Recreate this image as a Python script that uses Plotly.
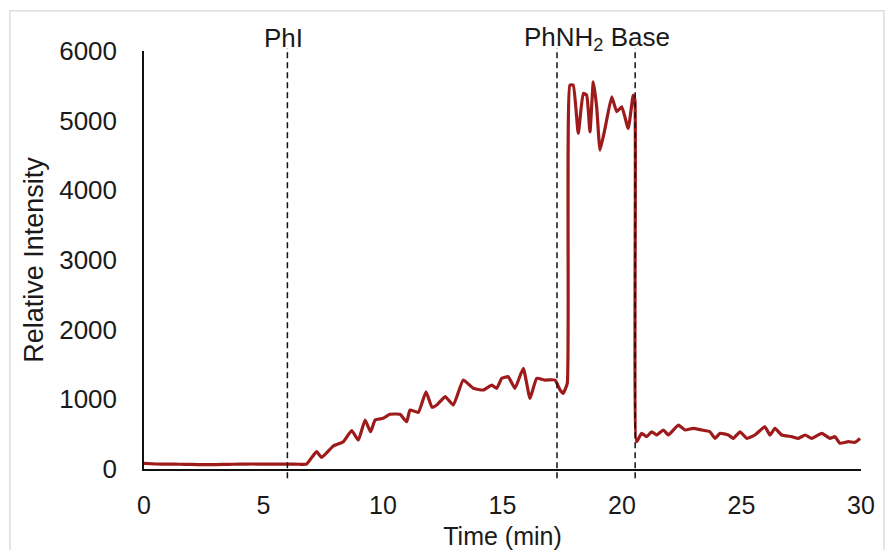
import plotly.graph_objects as go

# Time (min) and relative intensity
time_min = [0.0, 0.5, 1.0, 1.5, 2.0, 2.5, 3.0, 3.5, 4.0, 4.5, 5.0, 5.5, 6.0, 6.5, 6.8,
            7.22, 7.43, 7.92, 8.34, 8.69, 8.97, 9.25, 9.48, 9.67, 10.0, 10.29, 10.71,
            10.99, 11.13, 11.48, 11.8, 12.05, 12.25, 12.6, 12.94, 13.36, 13.78, 14.2,
            14.55, 14.76, 14.97, 15.24, 15.52, 15.87, 16.15, 16.43, 16.78, 17.2, 17.41,
            17.54, 17.71, 17.82, 17.96, 18.17, 18.38, 18.52, 18.66, 18.8, 18.94, 19.08,
            19.29, 19.57, 19.78, 19.99, 20.26, 20.47, 20.54, 20.61, 20.82, 21.03, 21.24,
            21.45, 21.73, 21.94, 22.36, 22.64, 22.98, 23.33, 23.68, 23.89, 24.1, 24.45,
            24.66, 24.94, 25.22, 25.56, 25.98, 26.19, 26.4, 26.68, 27.1, 27.38, 27.66,
            27.94, 28.36, 28.7, 28.91, 29.12, 29.47, 29.75, 29.96]
intensity = [80, 72, 70, 68, 66, 62, 64, 66, 70, 72, 70, 72, 70, 68, 70,
             248, 168, 330, 392, 550, 416, 703, 535, 703, 727, 785, 785,
             679, 847, 813, 1109, 885, 918, 1038, 918, 1277, 1158, 1134,
             1205, 1158, 1301, 1325, 1158, 1445, 1014, 1301, 1277, 1277, 1134,
             1086, 1230, 5510, 5510, 4817, 5391, 5367, 4840, 5558, 5199, 4578,
             4889, 5343, 5128, 5199, 4889, 5367, 5300, 392, 512, 464, 535,
             488, 560, 488, 631, 560, 584, 560, 535, 440, 512, 488,
             440, 535, 440, 488, 607, 488, 584, 488, 464, 440, 488,
             440, 512, 440, 464, 369, 392, 383, 440]

x_ticks = [0, 5, 10, 15, 20, 25, 30]
y_ticks = [0, 1000, 2000, 3000, 4000, 5000, 6000]

event_times = [6.0, 17.28, 20.55]
event_labels = ["PhI", "PhNH<sub>2</sub> Base"]
event_label_x = [5.82, 18.95]

FONT = "Liberation Sans, Arial, sans-serif"
TXT = "#1a1a1a"

fig = go.Figure()
fig.add_trace(go.Scatter(x=time_min, y=intensity, mode="lines",
                         line=dict(color="#9e1b1b", width=3.2, shape="spline", smoothing=0.4),
                         showlegend=False, hoverinfo="skip"))

for t in event_times:
    fig.add_shape(type="line", xref="x", yref="paper", x0=t, x1=t, y0=-0.022, y1=1.007,
                  line=dict(color="#111111", width=1.5, dash="6px,4px"))

for lab, lx in zip(event_labels, event_label_x):
    fig.add_annotation(x=lx, y=1.03, xref="x", yref="paper", text=lab, showarrow=False,
                       font=dict(family=FONT, size=26, color=TXT), yanchor="middle")

# light gray frame around the whole picture
fig.add_shape(type="rect", xref="paper", yref="paper", x0=-0.187, x1=1.032, y0=-0.25, y1=1.096,
              line=dict(color="#dddddd", width=1.5), layer="below")

fig.update_layout(
    width=888, height=550,
    margin=dict(l=144, r=27, t=51, b=81, autoexpand=False),
    paper_bgcolor="white", plot_bgcolor="white",
    font=dict(family=FONT, color=TXT),
)
fig.update_xaxes(range=[0, 30], tickvals=x_ticks, showgrid=False, zeroline=False,
                 showline=True, linecolor="#111111", linewidth=1.5, ticks="", automargin=False,
                 ticklabelstandoff=13, tickfont=dict(size=25, family=FONT, color=TXT),
                 title=dict(text="Time (min)", font=dict(size=25, family=FONT, color=TXT), standoff=20))
fig.update_yaxes(range=[0, 6000], tickvals=y_ticks, showgrid=False, zeroline=False,
                 showline=True, linecolor="#111111", linewidth=1.5, ticks="", automargin=False,
                 ticklabelstandoff=20, tickfont=dict(size=26, family=FONT, color=TXT),
                 title=dict(text="Relative Intensity", font=dict(size=27, family=FONT, color=TXT), standoff=8))

# remove the browser's default 8px page margin so the figure fills the window
fig.write_html("out.html", config={"displayModeBar": False},
               post_script="document.body.style.margin='0';")
